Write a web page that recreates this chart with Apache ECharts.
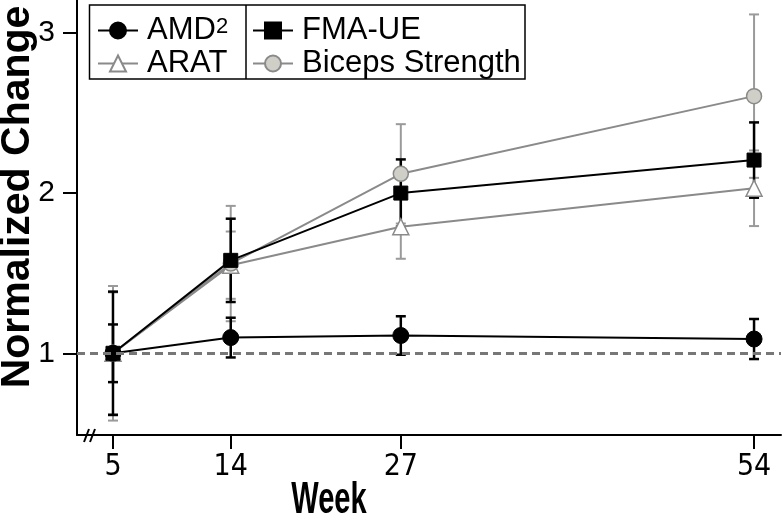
<!DOCTYPE html>
<html>
<head>
<meta charset="utf-8">
<script src="https://cdn.jsdelivr.net/npm/echarts@6/dist/echarts.min.js"></script>
<style>html,body{margin:0;padding:0;background:#fff}#c{width:782px;height:520px}</style>
</head>
<body>
<div id="c"></div>
<script>
// ---- data ----
const weeks = [5, 14, 27, 54];
const xTicks = [5, 14, 27, 54];
const yTicks = [1, 2, 3];
const amd = [1.0, 1.098, 1.111, 1.089];
const amdErr = [0.18, 0.124, 0.12, 0.125];
const fma = [1.0, 1.58, 2.0, 2.206];
const fmaErr = [0.385, 0.26, 0.21, 0.235];
const arat = [1.0, 1.55, 1.79, 2.03];
const aratErr = [0.42, 0.21, 0.2, 0.236];
const biceps = [1.0, 1.56, 2.12, 2.605];
const bicepsErr = [0.38, 0.36, 0.31, 0.51];
const baseline = 1;

const BLACK = '#000000', GRAY = '#8a8a8a';
const FONT = "'Liberation Sans', Arial, sans-serif";

function pts(vals) { return weeks.map((w, i) => [w, vals[i]]); }
function errs(vals, e) { return weeks.map((w, i) => [w, vals[i] - e[i], vals[i] + e[i]]); }
function errRender(color, width, capHalf) {
  return function (params, api) {
    const x = api.value(0);
    const lo = api.coord([x, api.value(1)]);
    const hi = api.coord([x, api.value(2)]);
    const st = { stroke: color, lineWidth: width };
    return {
      type: 'group',
      children: [
        { type: 'line', shape: { x1: lo[0], y1: lo[1], x2: hi[0], y2: hi[1] }, style: st },
        { type: 'line', shape: { x1: hi[0] - capHalf, y1: hi[1], x2: hi[0] + capHalf, y2: hi[1] }, style: st },
        { type: 'line', shape: { x1: lo[0] - capHalf, y1: lo[1], x2: lo[0] + capHalf, y2: lo[1] }, style: st }
      ]
    };
  };
}
function errSeries(vals, e, color, width) {
  return {
    type: 'custom', data: errs(vals, e), renderItem: errRender(color, width, 5),
    encode: { x: 0, y: [1, 2] }, z: 1, silent: true
  };
}

const chart = echarts.init(document.getElementById('c'), null, { renderer: 'canvas' });
const legendText = {
  color: '#000', fontSize: 31, fontFamily: FONT, lineHeight: 30, padding: [0, 0, 0, 4],
  rich: {
    n: { fontSize: 31, fontFamily: FONT, lineHeight: 30, color: '#000' },
    s: { fontSize: 22, fontFamily: FONT, lineHeight: 26, verticalAlign: 'top', color: '#000' }
  }
};
const option = {
  animation: false,
  backgroundColor: '#fff',
  grid: { left: 77, right: 1, top: 0, bottom: 85, containLabel: false },
  xAxis: {
    type: 'value', min: 2.25, max: 56.06,
    axisLine: { onZero: false, lineStyle: { color: BLACK, width: 2 } },
    axisTick: { customValues: xTicks, length: 14, lineStyle: { color: BLACK, width: 2 } },
    axisLabel: { customValues: xTicks, margin: 17, color: '#000', fontSize: 30,
      fontFamily: "'Liberation Sans Narrow', 'DejaVu Sans Condensed', sans-serif" },
    splitLine: { show: false }
  },
  yAxis: {
    type: 'value', min: 0.49, max: 3.205,
    axisLine: { show: true, onZero: false, lineStyle: { color: BLACK, width: 2 } },
    axisTick: { show: true, customValues: yTicks, length: 14, lineStyle: { color: BLACK, width: 2 } },
    axisLabel: { customValues: yTicks, margin: 22, color: '#000', fontSize: 30, fontFamily: FONT },
    splitLine: { show: false }
  },
  legend: [
    {
      orient: 'vertical', left: 97, top: 15, padding: 0, itemGap: 2, itemWidth: 40, itemHeight: 20,
      data: ['AMD', 'ARAT'], textStyle: legendText,
      formatter: n => n === 'AMD' ? '{n|AMD}{s|2}' : '{n|' + n + '}'
    },
    {
      orient: 'vertical', left: 252, top: 15, padding: 0, itemGap: 2, itemWidth: 40, itemHeight: 20,
      data: ['FMA-UE', 'Biceps Strength'], textStyle: legendText,
      formatter: n => '{n|' + n + '}'
    }
  ],
  graphic: [
    { type: 'rect', shape: { x: 89.5, y: 5, width: 435.5, height: 74 }, style: { fill: 'none', stroke: '#000', lineWidth: 1.5 }, z: 10 },
    { type: 'line', shape: { x1: 246, y1: 5, x2: 246, y2: 79 }, style: { stroke: '#000', lineWidth: 1.5 }, z: 10 },
    { type: 'line', shape: { x1: 84, y1: 442, x2: 89, y2: 429 }, style: { stroke: '#000', lineWidth: 2 }, z: 10 },
    { type: 'line', shape: { x1: 90, y1: 442, x2: 95, y2: 429 }, style: { stroke: '#000', lineWidth: 2 }, z: 10 },
    { type: 'text', x: 329, y: 501, scaleX: 0.66, style: { text: 'Week', fontSize: 44, fontWeight: 'bold', fontFamily: FONT, fill: '#000', align: 'center', verticalAlign: 'middle' }, z: 10 },
    { type: 'text', x: 18, y: 197, rotation: Math.PI / 2, style: { text: 'Normalized Change', fontSize: 41, fontWeight: 'bold', fontFamily: FONT, fill: '#000', align: 'center', verticalAlign: 'middle' }, z: 10 }
  ],
  series: [
    errSeries(arat, aratErr, '#9a9a9a', 2),
    errSeries(biceps, bicepsErr, '#9a9a9a', 2),
    errSeries(fma, fmaErr, BLACK, 2.5),
    errSeries(amd, amdErr, BLACK, 2.5),
    {
      name: 'ARAT', type: 'line', data: pts(arat), z: 3,
      symbol: 'triangle', symbolSize: 16,
      lineStyle: { color: GRAY, width: 2 },
      itemStyle: { color: '#ffffff', borderColor: GRAY, borderWidth: 1.5 }
    },
    {
      name: 'Biceps Strength', type: 'line', data: pts(biceps), z: 3,
      symbol: 'circle', symbolSize: 15,
      lineStyle: { color: GRAY, width: 2 },
      itemStyle: { color: '#cfcfc8', borderColor: GRAY, borderWidth: 1.5 }
    },
    {
      name: 'FMA-UE', type: 'line', data: pts(fma), z: 4,
      symbol: 'rect', symbolSize: 14,
      lineStyle: { color: BLACK, width: 2 },
      itemStyle: { color: BLACK, borderColor: BLACK, borderWidth: 1 }
    },
    {
      name: 'AMD', type: 'line', data: pts(amd), z: 4,
      symbol: 'circle', symbolSize: 16,
      lineStyle: { color: BLACK, width: 2 },
      itemStyle: { color: BLACK, borderColor: BLACK, borderWidth: 1 },
      markLine: {
        silent: true, symbol: 'none', label: { show: false },
        lineStyle: { color: '#777', width: 3, type: [8, 5] },
        data: [{ yAxis: baseline }]
      }
    }
  ]
};
chart.setOption(option);
</script>
</body>
</html>
